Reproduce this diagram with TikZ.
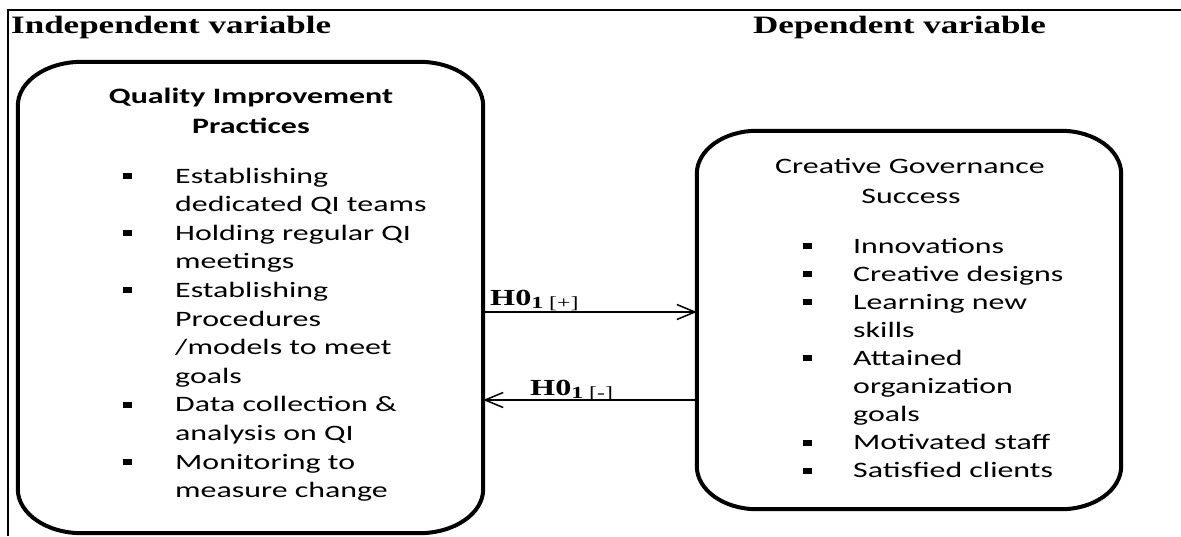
\documentclass[tikz,border=0pt]{standalone}
\usepackage{fontspec}
\setmainfont{Liberation Serif}[FakeStretch=1.4]
\newfontfamily\bodyfont{Carlito}[FakeStretch=1.45]
\usetikzlibrary{arrows.meta}

% outline with oval corners round a named node
\newcommand{\ovalframe}[3]{%
  \draw[boxline] ([xshift=#2]#1.north west) -- ([xshift=-#2]#1.north east)
    arc[start angle=90,end angle=0,x radius=#2,y radius=#3]
    -- ([yshift=#3]#1.south east)
    arc[start angle=0,end angle=-90,x radius=#2,y radius=#3]
    -- ([xshift=#2]#1.south west)
    arc[start angle=270,end angle=180,x radius=#2,y radius=#3]
    -- ([yshift=-#3]#1.north west)
    arc[start angle=180,end angle=90,x radius=#2,y radius=#3] -- cycle;}

\tikzset{
  heading/.style={font=\bfseries\fontsize{25}{25}\selectfont,inner sep=0pt,anchor=base west},
  boxtitle/.style={font=\bodyfont\fontsize{22}{22}\selectfont,inner sep=0pt,anchor=base},
  item/.style={font=\bodyfont\fontsize{22}{22}\selectfont,inner sep=0pt,anchor=base west},
  hyp/.style={font=\bfseries\fontsize{23}{23}\selectfont,inner sep=0pt,anchor=base west},
  holder/.style={draw=none,inner sep=0pt},
  boxline/.style={line width=4pt},
  link/.style={line width=1.5pt,-{Straight Barb[length=18pt,width=15pt,line width=1.5pt]}},
}

\begin{document}
\begin{tikzpicture}[x=1pt,y=-1pt]
  \useasboundingbox (0,0) rectangle (1181,536);

  % frame
  \draw[line width=1.5pt] (8,536) -- (8,10) -- (1181,10);

  \node[heading] (indep) at (11,33) {Independent variable};
  \node[heading] (dep) at (753,33) {Dependent variable};

  % boxes
  \node[holder,minimum width=465pt,minimum height=471pt] (qip) at (250.5,297.5) {};
  \node[holder,minimum width=424pt,minimum height=378pt] (cgs) at (909,320) {};
  \ovalframe{qip}{64pt}{44pt}
  \ovalframe{cgs}{60pt}{43pt}

  % left box text
  \node[boxtitle,font=\bodyfont\bfseries\fontsize{22}{22}\selectfont] (qipt1) at (251,103) {Quality Improvement};
  \node[boxtitle,font=\bodyfont\bfseries\fontsize{22}{22}\selectfont] (qipt2) at (251,133) {Practices};
  \foreach \txt [count=\i] in {Establishing,dedicated QI teams,Holding regular QI,meetings,
      Establishing,Procedures,/models to meet,goals,Data collection \&,analysis on QI,
      Monitoring to,measure change}
    \node[item] (qi\i) at (175,{183+28.6*(\i-1)}) {\txt};
  \foreach \i in {1,3,5,9,11}
    \fill ([xshift=-52pt,yshift=4pt]qi\i.base west) rectangle ++(9,-6);

  % right box text
  \node[boxtitle] (cgst1) at (910,173) {Creative Governance};
  \node[boxtitle] (cgst2) at (911,203) {Success};
  \foreach \txt [count=\i] in {Innovations,Creative designs,Learning new,skills,Attained,
      organization,goals,Motivated staff,Satisfied clients}
    \node[item] (cg\i) at (853,{253+28.1*(\i-1)}) {\txt};
  \foreach \i in {1,2,3,5,8,9}
    \fill ([xshift=-50pt,yshift=4pt]cg\i.base west) rectangle ++(9,-6);

  % hypotheses
  \coordinate (up) at (0,312);
  \coordinate (down) at (0,400);
  \draw[link] (qip.east |- up) -- (cgs.west |- up);
  \draw[link] (cgs.west |- down) -- (qip.east |- down);
  \node[hyp] (hplus) at (490,305) {H0\raisebox{-3pt}{\fontsize{17}{17}\selectfont 1 \mdseries[+]}};
  \node[hyp] (hminus) at (530,395) {H0\raisebox{-3pt}{\fontsize{17}{17}\selectfont 1 \mdseries[-]}};
\end{tikzpicture}
\end{document}
